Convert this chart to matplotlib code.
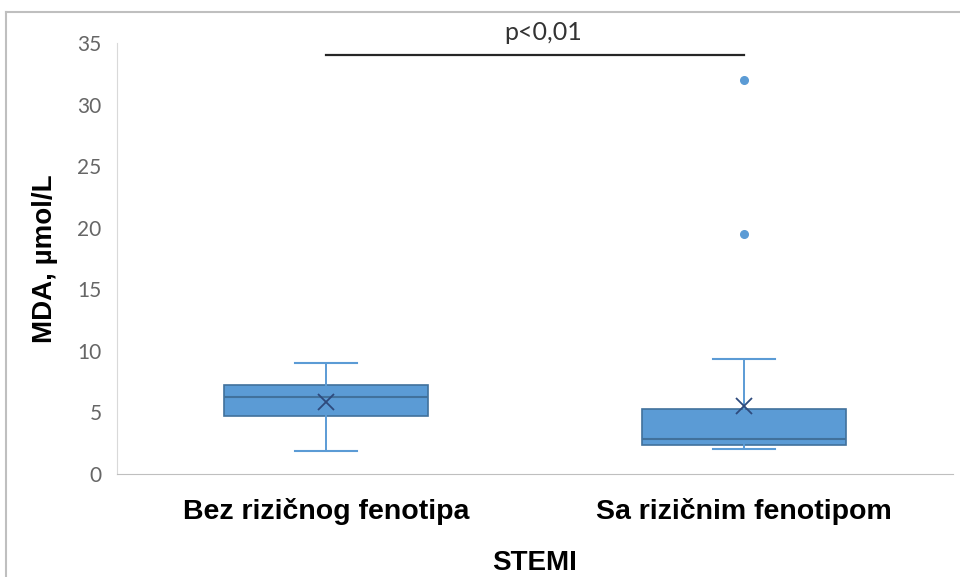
import matplotlib
matplotlib.use("Agg")
import matplotlib.pyplot as plt
from matplotlib.lines import Line2D

# data
categories = ["Bez rizičnog fenotipa", "Sa rizičnim fenotipom"]
whislo = [1.87, 2.03]
q1 = [4.72, 2.32]
med = [6.23, 2.85]
q3 = [7.25, 5.28]
whishi = [8.99, 9.35]
means = [5.88, 5.50]
fliers = [[], [19.5, 32.0]]
p_text = "p<0,01"
p_level = 34.0

blue = "#5B9BD5"
dark = "#41719C"

stats = []
for i in range(len(categories)):
    stats.append(dict(label=categories[i], whislo=whislo[i], q1=q1[i], med=med[i],
                      q3=q3[i], whishi=whishi[i], mean=means[i], fliers=fliers[i]))

fig = plt.figure(figsize=(9.6, 5.77), dpi=100)
ax = fig.add_axes([117/960, 1-474/577, 836/960, 431/577])

ax.bxp(stats, positions=[0, 1], widths=0.49, patch_artist=True, showmeans=True,
       boxprops=dict(facecolor=blue, edgecolor=dark, linewidth=1.2),
       medianprops=dict(color=dark, linewidth=1.5),
       whiskerprops=dict(color=blue, linewidth=1.4),
       capprops=dict(color=blue, linewidth=1.5),
       capwidths=0.15,
       meanprops=dict(marker="x", markeredgecolor="#2E4A7D", markersize=11, markeredgewidth=1.3),
       flierprops=dict(marker="o", markerfacecolor=blue, markeredgecolor=blue, markersize=5.5))

ax.set_xlim(-0.5, 1.5)
ax.set_ylim(0, 35)
ax.set_yticks(range(0, 36, 5))
ax.tick_params(axis="y", length=0, labelsize=15, labelcolor="#666666", pad=11)
ax.tick_params(axis="x", length=0, pad=17)
for lab in ax.get_yticklabels():
    lab.set_family(["Lato", "DejaVu Sans"])
ax.set_xticks([0, 1])
ax.set_xticklabels(categories, fontsize=20.5, fontweight="bold", family="Liberation Sans")

for s in ["top", "right"]:
    ax.spines[s].set_visible(False)
ax.spines["left"].set_color("#D9D9D9")
ax.spines["bottom"].set_color("#BFBFBF")

ax.set_ylabel("MDA, µmol/L", fontsize=20, fontweight="bold", family="Liberation Sans", labelpad=14)
ax.set_xlabel("STEMI", fontsize=20, fontweight="bold", family="Liberation Sans", labelpad=18)

# significance bar
ax.plot([0, 1], [p_level, p_level], color="#262626", linewidth=1.6, clip_on=False)
ax.text(0.52, p_level + 0.95, p_text, ha="center", va="bottom", fontsize=18,
        family=["Lato", "DejaVu Sans"], color="#333333")

# outer chart frame
fig.add_artist(Line2D([6/960, 1], [1-12/577, 1-12/577], color="#BFBFBF", linewidth=1.5))
fig.add_artist(Line2D([6/960, 6/960], [0, 1-12/577], color="#BFBFBF", linewidth=1.5))

fig.savefig("out.png", dpi=100)
